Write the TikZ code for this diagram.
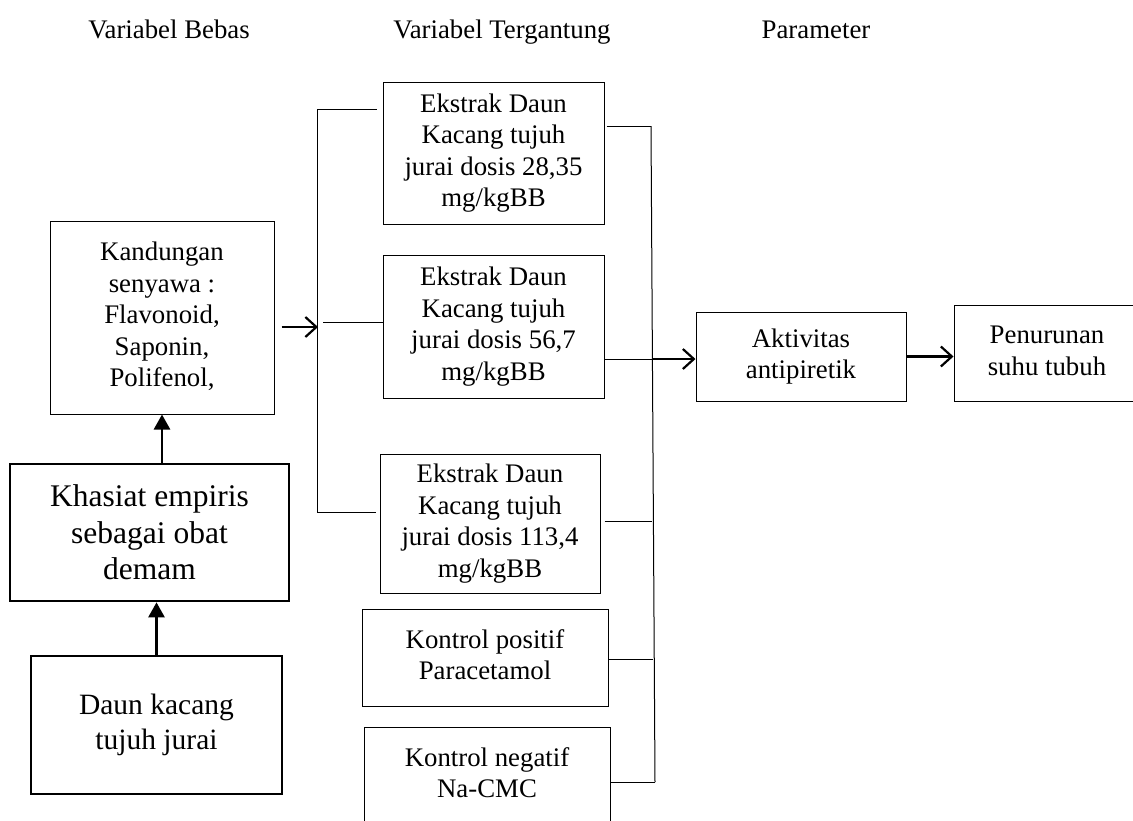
\documentclass[tikz,border=0pt]{standalone}
\usepackage{fontspec}
\setmainfont{Liberation Serif}
\usetikzlibrary{arrows.meta}
\begin{document}
\begin{tikzpicture}[x=1pt,y=-1pt,
  box/.style={draw, line width=1pt, inner sep=0pt, align=center, font=\fontsize{26.8}{31.5}\selectfont},
  thickbox/.style={box, line width=2.7pt},
  head/.style={inner sep=0pt, anchor=base, font=\fontsize{26.8}{31.5}\selectfont},
  wire/.style={line width=1pt},
  varrow/.style={line width=2.6pt, -{Triangle[length=15pt,width=16pt]}},
  harrow/.style={line width=2.2pt, -{Straight Barb[length=11pt,width=20pt]}}]
\useasboundingbox (0,0) rectangle (1133,820);
\fill[white] (0,0) rectangle (1133,820);
\clip (0,0) rectangle (1133,820);

% headers
\node[head] (h1) at (169,38) {Variabel Bebas};
\node[head] (h2) at (502,38) {Variabel Tergantung};
\node[head] (h3) at (816,38) {Parameter};

% left column
\node[box, minimum width=224pt, minimum height=193pt] (kand) at (162,317.5)
  {\raisebox{4pt}{\begin{tabular}{@{}c@{}}Kandungan\\senyawa :\\Flavonoid,\\Saponin,\\Polifenol,\end{tabular}}};
\node[thickbox, minimum width=279pt, minimum height=137pt, font=\fontsize{31.5}{36.5}\selectfont] (khas) at (149.5,532.5)
  {Khasiat empiris\\sebagai obat\\demam};
\node[thickbox, minimum width=251pt, minimum height=138pt, font=\fontsize{29.5}{35}\selectfont] (daun) at (156.5,725)
  {Daun kacang\\tujuh jurai};

% middle column
\node[box, minimum width=221pt, minimum height=142pt] (k1) at (493.5,153)
  {Ekstrak Daun\\Kacang tujuh\\jurai dosis 28,35\\mg/kgBB};
\node[box, minimum width=221pt, minimum height=143pt] (k2) at (493.5,326.5)
  {Ekstrak Daun\\Kacang tujuh\\jurai dosis 56,7\\mg/kgBB};
\node[box, minimum width=220pt, minimum height=139pt] (k3) at (490,523.5)
  {Ekstrak Daun\\Kacang tujuh\\jurai dosis 113,4\\mg/kgBB};
\node[box, minimum width=246pt, minimum height=97pt] (kp) at (485,657.5)
  {\raisebox{6pt}{\begin{tabular}{@{}c@{}}Kontrol positif\\Paracetamol\end{tabular}}};
\node[box, minimum width=246pt, minimum height=97pt] (kn) at (487,775.5)
  {\raisebox{6pt}{\begin{tabular}{@{}c@{}}Kontrol negatif\\Na-CMC\end{tabular}}};

% right column
\node[box, minimum width=210pt, minimum height=89pt] (akt) at (801,356.5)
  {\raisebox{4pt}{\begin{tabular}{@{}c@{}}Aktivitas\\antipiretik\end{tabular}}};
\node[box, minimum width=186pt, minimum height=96pt] (pen) at (1047,353)
  {\raisebox{5pt}{\begin{tabular}{@{}c@{}}Penurunan\\suhu tubuh\end{tabular}}};

% bus coordinates
\coordinate (L1) at (317,109);
\coordinate (L2) at (317,322);
\coordinate (L3) at (317,512);
\coordinate (Lin) at (318,327);
\coordinate (R1) at (651,126);
\coordinate (R2) at (652,359);
\coordinate (R3) at (652,521);
\coordinate (R4) at (653,659);
\coordinate (R5) at (655,782);

% vertical arrows
\draw[varrow] (daun.north) -- (daun.north |- khas.south);
\draw[varrow] (kand.south |- khas.north) -- (kand.south);

% left bus
\draw[harrow] ([xshift=7pt]kand.east |- Lin) -- (Lin);
\draw[wire] (L1) -- (L3);
\draw[wire] (L1) -- ([xshift=-6pt]k1.west |- L1);
\draw[wire] ([xshift=6pt]L2) -- (k2.west |- L2);
\draw[wire] (L3) -- ([xshift=-4pt]k3.west |- L3);

% right bus
\draw[wire] (R1) -- (R5);
\draw[wire] ([xshift=2pt]k1.east |- R1) -- (R1);
\draw[wire] (k2.east |- R2) -- (R2);
\draw[wire] ([xshift=4pt]k3.east |- R3) -- (R3);
\draw[wire] (kp.east |- R4) -- (R4);
\draw[wire] (kn.east |- R5) -- (R5);

% right arrows
\draw[harrow] (R2) -- (akt.west |- R2);
\draw[harrow] (akt.east) -- (pen.west |- akt.east);
\end{tikzpicture}
\end{document}
